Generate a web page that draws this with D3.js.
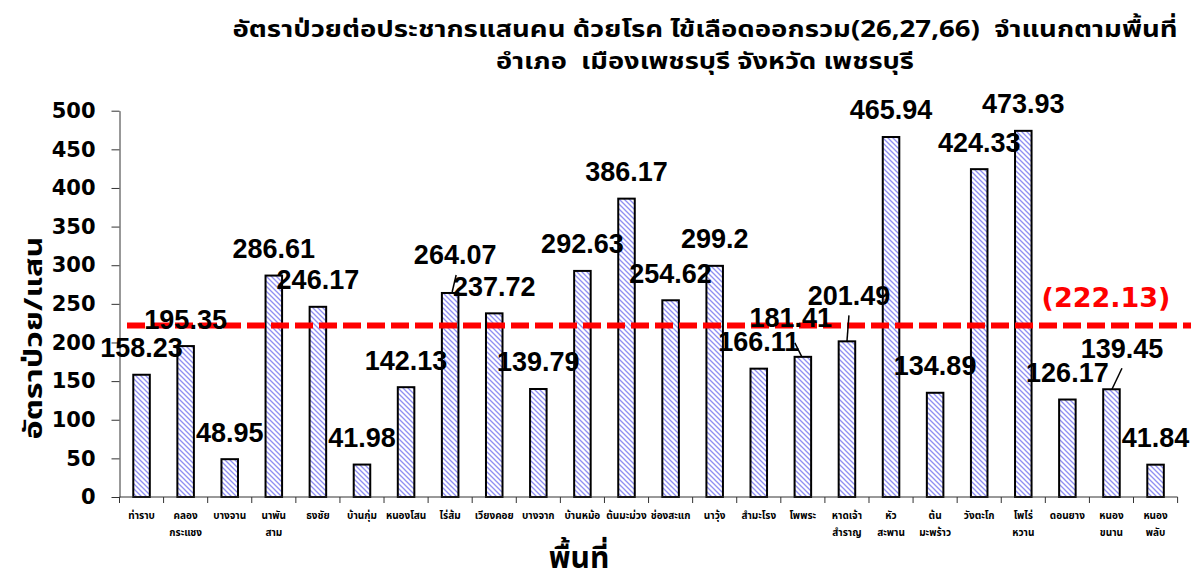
<!DOCTYPE html>
<html>
<head>
<meta charset="utf-8">
<script src="https://cdn.jsdelivr.net/npm/d3@7"></script>
<style>
  body { margin: 0; background: #fff; }
  svg { display: block; }
  .thai { font-family: Tahoma, "Noto Sans Thai", "Loma", "Garuda", "Noto Sans", sans-serif; font-weight: bold; }
  .val { font-family: "Liberation Sans", Arial, sans-serif; font-weight: bold; }
  .tick text { font-family: "DejaVu Sans", Verdana, sans-serif; font-weight: bold; }
</style>
</head>
<body>
<svg id="chart" width="1191" height="582"></svg>
<script>
// data
const categories = [
  "ท่าราบ", "คลอง\nกระแชง", "บางจาน", "นาพัน\nสาม", "ธงชัย", "บ้านกุ่ม",
  "หนองโสน", "ไร่ส้ม", "เวียงคอย", "บางจาก", "บ้านหม้อ", "ต้นมะม่วง",
  "ช่องสะแก", "นาวุ้ง", "สำมะโรง", "โพพระ", "หาดเจ้า\nสำราญ", "หัว\nสะพาน",
  "ต้น\nมะพร้าว", "วังตะโก", "โพไร่\nหวาน", "ดอนยาง", "หนอง\nขนาน", "หนอง\nพลับ"
];
const rates = [
  158.23, 195.35, 48.95, 286.61, 246.17, 41.98,
  142.13, 264.07, 237.72, 139.79, 292.63, 386.17,
  254.62, 299.2, 166.11, 181.41, 201.49, 465.94,
  134.89, 424.33, 473.93, 126.17, 139.45, 41.84
];
const districtAverage = 222.13;
const yTicks = [0, 50, 100, 150, 200, 250, 300, 350, 400, 450, 500];

const titleLines = [
  "อัตราป่วยต่อประชากรแสนคน ด้วยโรค ไข้เลือดออกรวม(26,27,66)  จำแนกตามพื้นที่",
  "อำเภอ  เมืองเพชรบุรี จังหวัด เพชรบุรี"
];
const yTitle = "อัตราป่วย/แสน";
const xTitle = "พื้นที่";

// labels that were dragged away from the default spot, and their leader lines
const labelNudge = { 7: [5, -11], 15: [-12, -12], 16: [2, -19], 22: [10.5, -14] };
const leaders = { 7: [2, -1, 6, -18], 15: [-1, 0, -8, -14], 16: [0, 0, 2, -26], 22: [0.5, 0, 10.5, -21] };

const svg = d3.select("#chart");

const plotLeft = 119.5, plotRight = 1177.6, plotTop = 110.7, plotBottom = 497;

const xSlot = d3.scaleBand().domain(d3.range(categories.length)).range([plotLeft, plotRight]).padding(0);
const x = d3.scaleBand().domain(d3.range(categories.length)).range([plotLeft, plotRight])
  .paddingInner(0.625).paddingOuter(0.3125);
const y = d3.scaleLinear().domain([0, 500]).range([plotBottom, plotTop]);

// hatch fill
const defs = svg.append("defs");
const pat = defs.append("pattern")
  .attr("id", "hatch")
  .attr("patternUnits", "userSpaceOnUse")
  .attr("width", 5).attr("height", 5);
pat.append("rect").attr("width", 5).attr("height", 5).attr("fill", "#fff");
pat.append("path")
  .attr("d", "M-1,-1 L6,6 M-1,4 L1,6 M4,-1 L6,1")
  .attr("stroke", "#8f8ff2")
  .attr("stroke-width", 1.3);

// title (stretched to the width it has in the reference)
const titleWidths = [945, 418];
svg.selectAll(".title")
  .data(titleLines)
  .join("text")
  .attr("class", "thai title")
  .attr("x", 705)
  .attr("y", (d, i) => 37 + i * 32)
  .attr("text-anchor", "middle")
  .attr("font-size", 23)
  .attr("textLength", (d, i) => titleWidths[i])
  .attr("lengthAdjust", "spacingAndGlyphs")
  .style("white-space", "pre")
  .text(d => d);

// bars
svg.append("g")
  .selectAll("rect")
  .data(rates)
  .join("rect")
  .attr("x", (d, i) => x(i))
  .attr("y", d => y(d))
  .attr("width", x.bandwidth())
  .attr("height", d => plotBottom - y(d))
  .attr("fill", "url(#hatch)")
  .attr("stroke", "#000")
  .attr("stroke-width", 2);

// y axis
const yAxis = svg.append("g")
  .attr("transform", `translate(${plotLeft},0)`)
  .call(d3.axisLeft(y).tickValues(yTicks).tickSize(8).tickPadding(16).tickSizeOuter(0));
yAxis.select(".domain").attr("stroke", "#333");
yAxis.selectAll(".tick line").attr("stroke", "#333");
yAxis.selectAll(".tick text").attr("font-size", 21).attr("fill", "#000");

// x axis: line plus ticks between categories
svg.append("line")
  .attr("x1", plotLeft).attr("x2", plotRight)
  .attr("y1", plotBottom).attr("y2", plotBottom)
  .attr("stroke", "#333");
svg.append("g")
  .selectAll("line")
  .data(d3.range(categories.length + 1))
  .join("line")
  .attr("x1", i => plotLeft + i * xSlot.step())
  .attr("x2", i => plotLeft + i * xSlot.step())
  .attr("y1", plotBottom).attr("y2", plotBottom + 6)
  .attr("stroke", "#333");

// category labels
const catG = svg.append("g");
categories.forEach((c, i) => {
  const cx = xSlot(i) + xSlot.bandwidth() / 2;
  c.split("\n").forEach((line, j) => {
    catG.append("text")
      .attr("class", "thai")
      .attr("x", cx)
      .attr("y", 519 + j * 17)
      .attr("text-anchor", "middle")
      .attr("font-size", 10)
      .text(line);
  });
});

// average line
svg.append("line")
  .attr("x1", 127).attr("x2", 1191)
  .attr("y1", y(districtAverage)).attr("y2", y(districtAverage))
  .attr("stroke", "#ff0000")
  .attr("stroke-width", 6)
  .attr("stroke-dasharray", "18,6");

svg.append("text")
  .attr("x", 1106)
  .attr("y", y(districtAverage) - 28)
  .attr("dy", "0.36em")
  .attr("text-anchor", "middle")
  .attr("font-family", "'DejaVu Sans', Verdana, sans-serif")
  .attr("font-weight", "bold")
  .attr("font-size", 27)
  .attr("fill", "#ff0000")
  .text(`(${districtAverage})`);

// leader lines
Object.entries(leaders).forEach(([i, l]) => {
  const cx = x(+i) + x.bandwidth() / 2;
  const ty = y(rates[i]);
  svg.append("line")
    .attr("x1", cx + l[0]).attr("y1", ty + l[1])
    .attr("x2", cx + l[2]).attr("y2", ty + l[3])
    .attr("stroke", "#000")
    .attr("stroke-width", 1.5);
});

// value labels
svg.append("g")
  .selectAll("text")
  .data(rates)
  .join("text")
  .attr("class", "val")
  .attr("x", (d, i) => x(i) + x.bandwidth() / 2 + (labelNudge[i] ? labelNudge[i][0] : 0))
  .attr("y", (d, i) => y(d) - 27 + (labelNudge[i] ? labelNudge[i][1] : 0))
  .attr("dy", "0.35em")
  .attr("text-anchor", "middle")
  .attr("font-size", 27)
  .text(d => d);

// axis titles
svg.append("text")
  .attr("class", "thai")
  .attr("transform", "translate(42,338) rotate(-90)")
  .attr("text-anchor", "middle")
  .attr("font-size", 25)
  .attr("textLength", 203)
  .attr("lengthAdjust", "spacingAndGlyphs")
  .text(yTitle);

svg.append("text")
  .attr("class", "thai")
  .attr("x", 579)
  .attr("y", 568)
  .attr("text-anchor", "middle")
  .attr("font-size", 30)
  .text(xTitle);
</script>
</body>
</html>
